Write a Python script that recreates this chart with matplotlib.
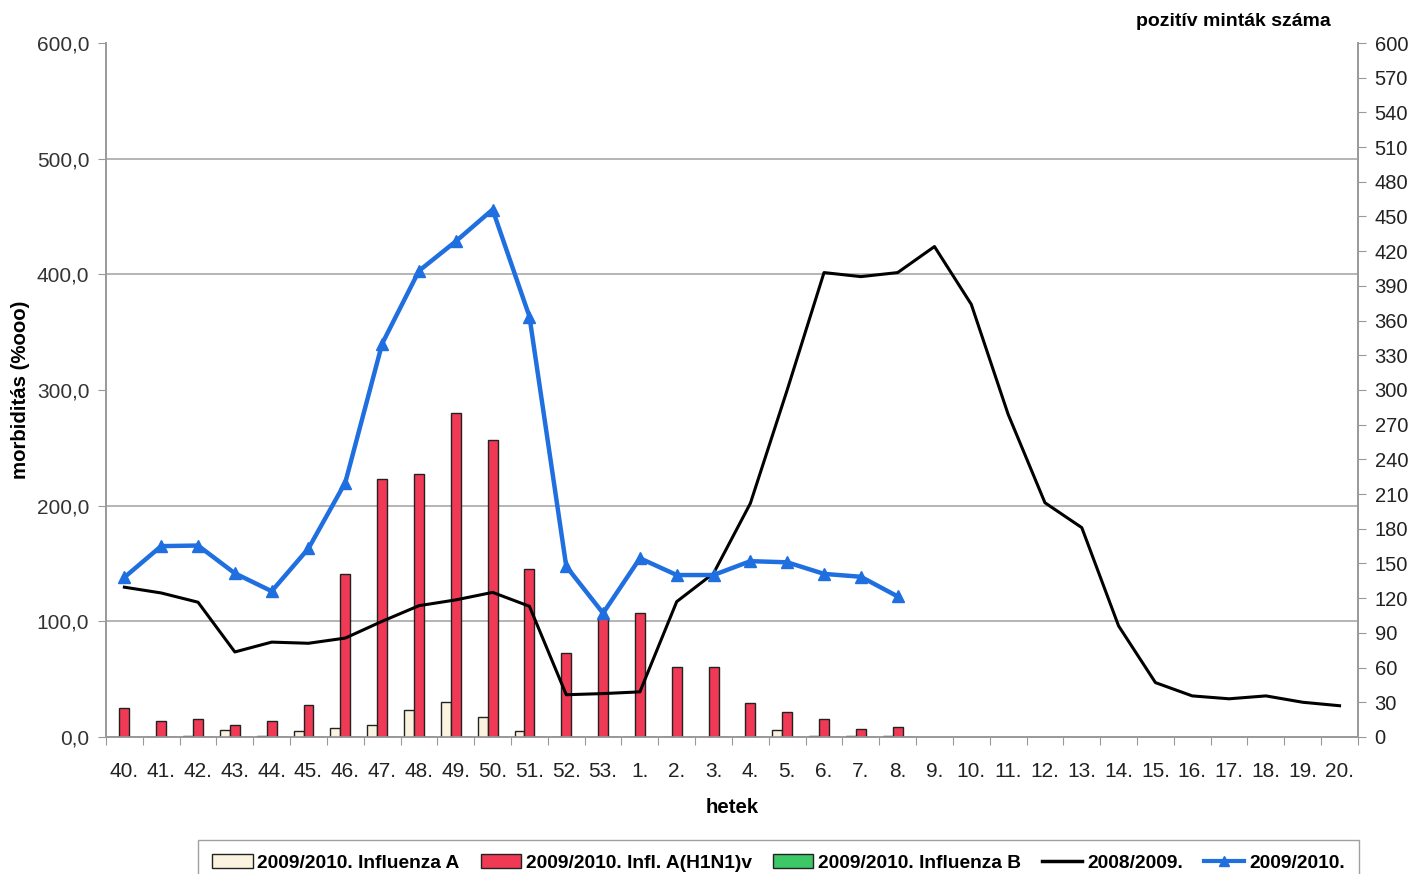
import matplotlib
matplotlib.use("Agg")
import matplotlib.pyplot as plt
import numpy as np
from matplotlib.patches import Patch
from matplotlib.lines import Line2D

weeks = ["40.", "41.", "42.", "43.", "44.", "45.", "46.", "47.", "48.", "49.", "50.", "51.", "52.", "53.",
         "1.", "2.", "3.", "4.", "5.", "6.", "7.", "8.", "9.", "10.", "11.", "12.", "13.", "14.", "15.",
         "16.", "17.", "18.", "19.", "20."]

# positive samples (right axis)
infl_a = [0, 0, 1, 6, 1, 5, 7.5, 10.5, 23.5, 30, 17, 5, 0, 0,
          0, 0, 0, 0, 6, 1, 0.5, 1]
infl_h1n1 = [25, 13.5, 15.5, 10, 13.5, 28, 141, 223, 227, 280, 257, 145, 73, 104,
             107, 60.5, 60.5, 29.5, 21.5, 15.5, 6.5, 8.5]
infl_b = [0] * 22

# morbidity (left axis)
morb_2008 = [129.5, 124.5, 116.5, 73.5, 82, 81, 85.5, 100, 113.5, 118.5, 125, 113, 36.5, 37.5,
             39, 117, 141.5, 202, 300, 401.5, 398, 401.5, 424, 374, 279, 202.5, 181, 96, 47,
             35.5, 33, 35.5, 30, 27]
morb_2009 = [138, 165, 165.5, 141.5, 126, 163, 220, 340, 403, 428.5, 456, 363.5, 147.5, 107,
             154.5, 140, 140, 152, 151, 141, 138.5, 121.5]

left_ticks = [0, 100, 200, 300, 400, 500, 600]
right_ticks = list(range(0, 601, 30))

FONT = "Liberation Sans"
plt.rcParams['font.family'] = [FONT, 'DejaVu Sans']

fig = plt.figure(figsize=(14.11, 8.74), dpi=100)
ax = fig.add_axes([0.0751, 0.1568, 0.8873, 0.794])
ax2 = ax.twinx()

x_all = np.arange(len(weeks))
xb = np.arange(len(infl_h1n1))
w = 0.27
c_cream = "#fbf3df"
c_red = "#f03a55"
c_green = "#3cc866"
c_blue = "#1f6fe0"

ax2.bar(xb - w, infl_a, w, color=c_cream, edgecolor="#222222", linewidth=1.0, zorder=3)
ax2.bar(xb, infl_h1n1, w, color=c_red, edgecolor="#222222", linewidth=1.0, zorder=3)
ax2.bar(xb + w, infl_b, w, color=c_green, edgecolor="#222222", linewidth=1.0, zorder=3)

ax.plot(x_all, morb_2008, color="black", linewidth=2.2, zorder=4)
ax.plot(np.arange(len(morb_2009)), morb_2009, color=c_blue, linewidth=3.2, marker="^",
        markersize=8, markerfacecolor=c_blue, markeredgecolor=c_blue, zorder=5)

ax.set_zorder(ax2.get_zorder() + 1)
ax.patch.set_visible(False)

ax.set_xlim(-0.5, len(weeks) - 0.5)
ax.set_ylim(0, 600)
ax2.set_ylim(0, 600)

# grid on right axes (behind bars) at left-axis tick values
ax2.set_yticks(left_ticks, minor=True)
ax2.grid(which="minor", axis="y", color="#a8a8a8", linewidth=1.2, zorder=0)
ax2.tick_params(axis="y", which="minor", length=0)
ax2.set_axisbelow(True)

ax.set_yticks(left_ticks)
ax.set_yticklabels([f"{v:.1f}".replace(".", ",") for v in left_ticks])
ax2.set_yticks(right_ticks)
ax2.set_yticklabels([str(v) for v in right_ticks])

ax.set_xticks(np.arange(len(weeks) + 1) - 0.5)
ax.set_xticklabels([])
ax.set_xticks(x_all, minor=True)
ax.set_xticklabels(weeks, minor=True)
ax.tick_params(axis="x", which="major", length=6, color="#999999", direction="out")
ax.tick_params(axis="x", which="minor", length=0, pad=18, labelsize=15, labelcolor="#222222")
ax.tick_params(axis="y", length=6, color="#999999", labelsize=15, labelcolor="#333333", pad=6)
ax2.tick_params(axis="y", which="major", length=6, color="#999999", labelsize=14.5,
                labelcolor="#222222", pad=6)

for a in (ax, ax2):
    a.spines["top"].set_visible(False)
    for s in ("left", "right", "bottom"):
        a.spines[s].set_color("#999999")
        a.spines[s].set_linewidth(1.2)

ax.set_ylabel("morbiditás (%ooo)", fontsize=14.7, fontweight="bold", labelpad=5)
ax.set_xlabel("hetek", fontsize=14.7, fontweight="bold", labelpad=12)
fig.text(0.874, 0.975, "pozitív minták száma", fontsize=14, fontweight="bold",
         ha="center", va="center")

handles = [
    Patch(facecolor=c_cream, edgecolor="#222222"),
    Patch(facecolor=c_red, edgecolor="#222222"),
    Patch(facecolor=c_green, edgecolor="#222222"),
    Line2D([], [], color="black", linewidth=2.5),
    Line2D([], [], color=c_blue, linewidth=3, marker="^", markersize=7),
]
labels = ["2009/2010. Influenza A", "2009/2010. Infl. A(H1N1)v", "2009/2010. Influenza B",
          "2008/2009.", "2009/2010."]
leg = fig.legend(handles, labels, loc="upper left", bbox_to_anchor=(0.1403, 0.039), ncol=5,
                 frameon=True, prop={"weight": "bold", "size": 13.8},
                 handlelength=2.1, handletextpad=0.25, columnspacing=1.1,
                 fancybox=False, edgecolor="#888888", borderpad=0.75, borderaxespad=0)

fig.savefig("out.png", dpi=100)
